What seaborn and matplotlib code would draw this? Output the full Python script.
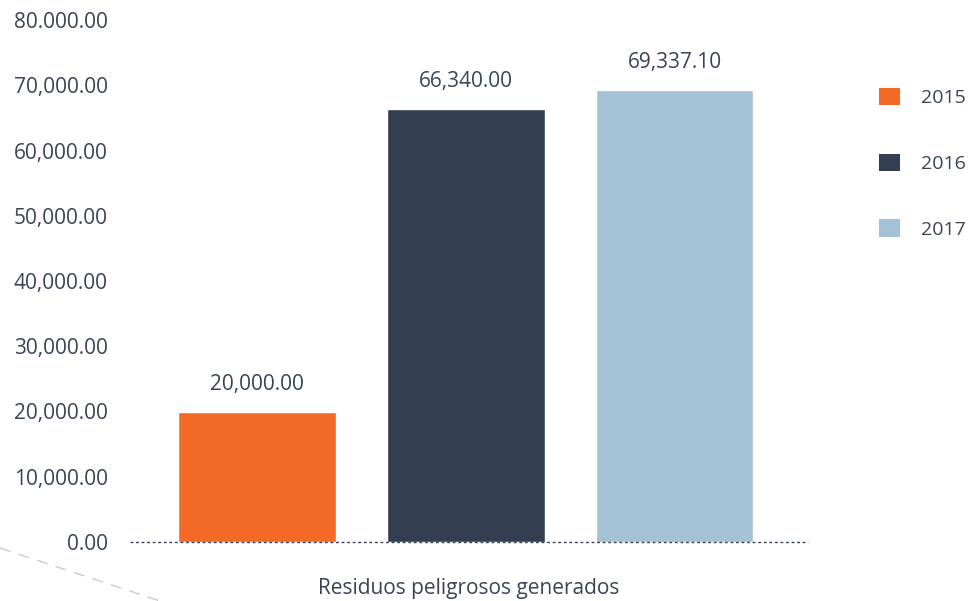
import matplotlib
matplotlib.use("Agg")
import matplotlib.pyplot as plt
import seaborn as sns
import pandas as pd
from matplotlib.lines import Line2D
from matplotlib.patches import Patch

years = ["2015", "2016", "2017"]
values = [20000.00, 66340.00, 69337.10]
value_labels = ["20,000.00", "66,340.00", "69,337.10"]
y_ticks = [0, 10000, 20000, 30000, 40000, 50000, 60000, 70000, 80000]
y_tick_labels = ["0.00", "10,000.00", "20,000.00", "30,000.00", "40,000.00",
                 "50,000.00", "60,000.00", "70,000.00", "80.000.00"]
colors = ["#F36A26", "#333F50", "#A5C1D6"]
category = "Residuos peligrosos generados"

sns.set_style("white")
plt.rcParams['font.family'] = ['Open Sans', 'DejaVu Sans']
text_color = "#3A4454"

df = pd.DataFrame({"year": years, "value": values})

fig = plt.figure(figsize=(9.68, 6.01), dpi=100)
ax = fig.add_axes([130 / 968, 59 / 601, 678 / 968, 522 / 601])

sns.barplot(data=df, x="year", y="value", hue="year", palette=colors,
            width=0.756, legend=False, ax=ax, saturation=1)

for i, (v, lab) in enumerate(zip(values, value_labels)):
    ax.annotate(lab, (i, v), xytext=(0, 12), textcoords="offset points",
                ha="center", va="bottom", fontsize=15, color=text_color)

ax.set_xlim(-0.61, 2.64)
ax.set_ylim(0, 80000)
ax.set_yticks(y_ticks)
ax.set_yticklabels(y_tick_labels, fontsize=15, color=text_color)
ax.tick_params(axis="y", length=0, pad=16)
ax.set_xticks([])
ax.set_xlabel(category, fontsize=15, color=text_color, labelpad=26)
ax.set_ylabel("")
for s in ax.spines.values():
    s.set_visible(False)
ax.axhline(0, color="#333F50", linestyle=(0, (2, 2)), linewidth=1.0, clip_on=False)

handles = [Patch(facecolor=c, edgecolor="none") for c in colors]
fig.legend(handles, years, loc="upper left", bbox_to_anchor=(879 / 968, 1 - 88 / 601),
           frameon=False, fontsize=14, labelcolor=text_color, handlelength=1.08,
           handleheight=1.0, labelspacing=2.38, handletextpad=1.1,
           borderpad=0, borderaxespad=0)

fig.add_artist(Line2D([0, 160 / 968], [1 - 548 / 601, 0], transform=fig.transFigure,
                      color="#CCCCCC", linestyle=(0, (8, 6)), linewidth=1))

fig.savefig("out.png", dpi=100)
